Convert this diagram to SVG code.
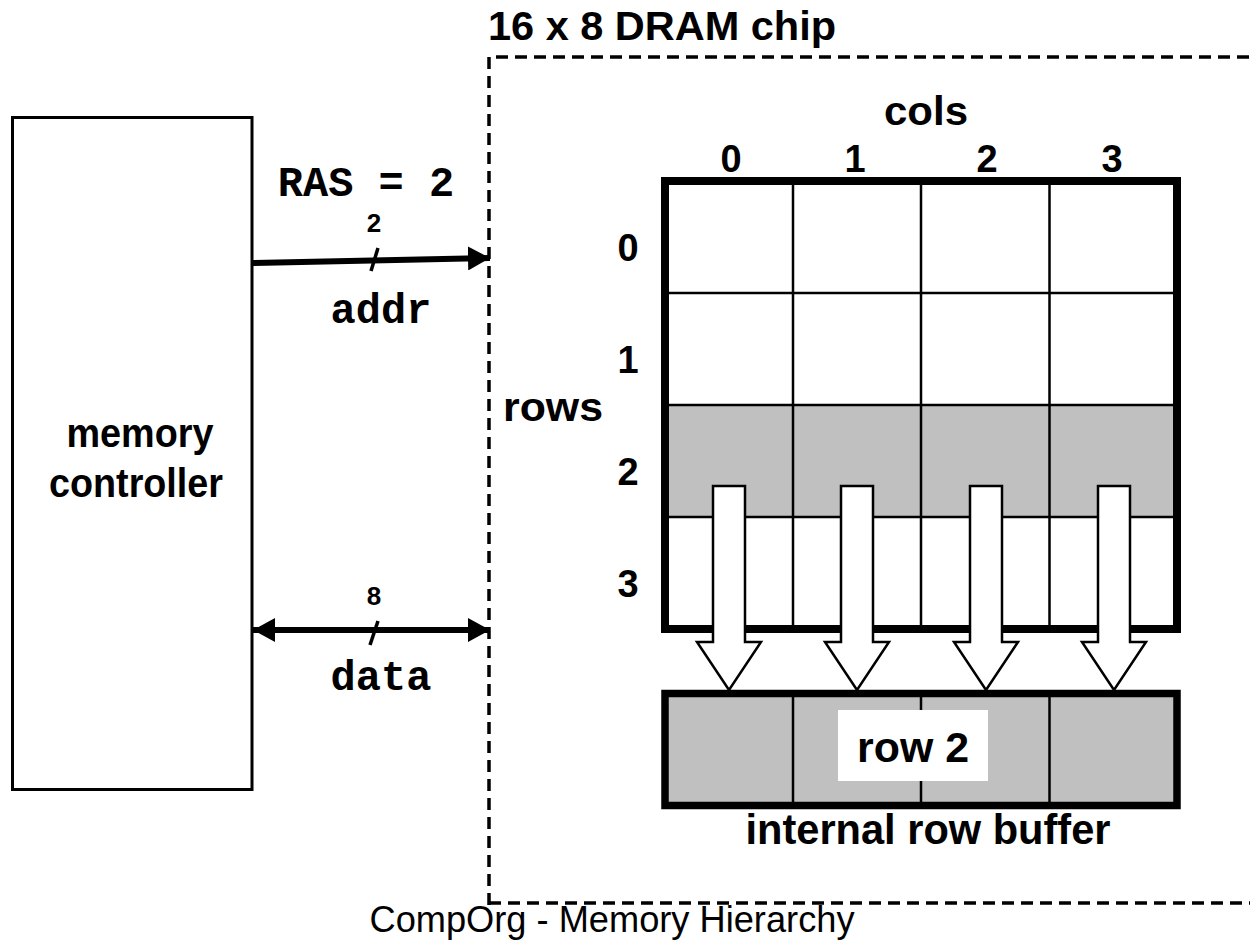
<svg xmlns="http://www.w3.org/2000/svg" width="1250" height="942" viewBox="0 0 1250 942">
<style>
.b{font-family:"Liberation Sans",Arial,sans-serif;font-weight:bold;fill:#000}
.m{font-family:"Liberation Mono","Courier New",monospace;font-weight:bold;fill:#000}
.r{font-family:"Liberation Sans",Arial,sans-serif;fill:#000}
.thin{stroke:#000;stroke-width:2.5;fill:none}
.blk{fill:#fff;stroke:#000;stroke-width:2.5;stroke-linejoin:miter}
</style>
<defs>
<marker id="ah" viewBox="0 0 22 24" refX="22" refY="12" markerWidth="22" markerHeight="24" markerUnits="userSpaceOnUse" orient="auto-start-reverse">
<path d="M0,0 L22,12 L0,24 Z" fill="#000"/>
</marker>
</defs>
<rect width="1250" height="942" fill="#fff"/>

<g id="chip">
<path d="M489,905 L489,57 L1250,57 M489,903 L1250,903" fill="none" stroke="#000" stroke-width="3.5" stroke-dasharray="12,7"/>
<text class="b" x="488" y="40" font-size="40" textLength="348" lengthAdjust="spacingAndGlyphs">16 x 8 DRAM chip</text>
</g>

<g id="controller">
<rect x="12.5" y="117.5" width="239.5" height="672" fill="#fff" stroke="#000" stroke-width="3"/>
<text class="b" x="140" y="447" font-size="41" text-anchor="middle" textLength="147" lengthAdjust="spacingAndGlyphs">memory</text>
<text class="b" x="136" y="497" font-size="41" text-anchor="middle" textLength="174" lengthAdjust="spacingAndGlyphs">controller</text>
</g>

<g id="grid">
<rect x="665" y="405" width="512" height="112" fill="#c0c0c0"/>
<path class="thin" d="M793,181 V629 M921,181 V629 M1049.5,181 V629 M665,293 H1177 M665,405 H1177 M665,517 H1177"/>
<rect x="665" y="181" width="512" height="448" fill="none" stroke="#000" stroke-width="8"/>
<text class="b" x="926" y="125" font-size="40" text-anchor="middle" textLength="84" lengthAdjust="spacingAndGlyphs">cols</text>
<text class="b" x="731" y="172" font-size="38" text-anchor="middle">0</text>
<text class="b" x="855" y="172" font-size="38" text-anchor="middle">1</text>
<text class="b" x="987" y="172" font-size="38" text-anchor="middle">2</text>
<text class="b" x="1112" y="172" font-size="38" text-anchor="middle">3</text>
<text class="b" x="628" y="261" font-size="38" text-anchor="middle">0</text>
<text class="b" x="628" y="373" font-size="38" text-anchor="middle">1</text>
<text class="b" x="628" y="485" font-size="38" text-anchor="middle">2</text>
<text class="b" x="628" y="597" font-size="38" text-anchor="middle">3</text>
<text class="b" x="553" y="421" font-size="40" text-anchor="middle" textLength="100" lengthAdjust="spacingAndGlyphs">rows</text>
</g>

<g id="rowbuffer">
<rect x="665" y="693.5" width="512" height="112" fill="#c0c0c0" stroke="#000" stroke-width="7.5"/>
<path class="thin" d="M793,693 V806 M921,693 V806 M1049.5,693 V806"/>
<rect x="838" y="710" width="150" height="71" fill="#fff"/>
<text class="b" x="913" y="762" font-size="42" text-anchor="middle" textLength="112" lengthAdjust="spacingAndGlyphs">row 2</text>
<text class="b" x="928" y="844" font-size="42" text-anchor="middle" textLength="365" lengthAdjust="spacingAndGlyphs">internal row buffer</text>
</g>

<g id="connectors">
<path class="blk" d="M713,486 H745 V642 H761 L729,690 L697,642 H713 Z"/>
<path class="blk" d="M841,486 H873 V642 H889 L857,690 L825,642 H841 Z"/>
<path class="blk" d="M970,486 H1002 V642 H1018 L986,690 L954,642 H970 Z"/>
<path class="blk" d="M1098,486 H1130 V642 H1146 L1114,690 L1082,642 H1098 Z"/>
<line x1="252" y1="263" x2="490" y2="258" stroke="#000" stroke-width="6" marker-end="url(#ah)"/>
<line x1="378" y1="248" x2="371" y2="271" stroke="#000" stroke-width="3.5"/>
<line x1="253" y1="630" x2="490" y2="630" stroke="#000" stroke-width="6" marker-start="url(#ah)" marker-end="url(#ah)"/>
<line x1="378" y1="621" x2="370" y2="645" stroke="#000" stroke-width="3.5"/>
</g>

<g id="labels">
<text class="m" x="366" y="196" font-size="42" text-anchor="middle">RAS = 2</text>
<text class="b" x="374" y="232" font-size="26" text-anchor="middle">2</text>
<text class="m" x="381" y="323" font-size="42" text-anchor="middle">addr</text>
<text class="b" x="374" y="605" font-size="26" text-anchor="middle">8</text>
<text class="m" x="381" y="690" font-size="42" text-anchor="middle">data</text>
<text class="r" x="612" y="932" font-size="36" text-anchor="middle" textLength="485" lengthAdjust="spacingAndGlyphs">CompOrg - Memory Hierarchy</text>
</g>
</svg>
